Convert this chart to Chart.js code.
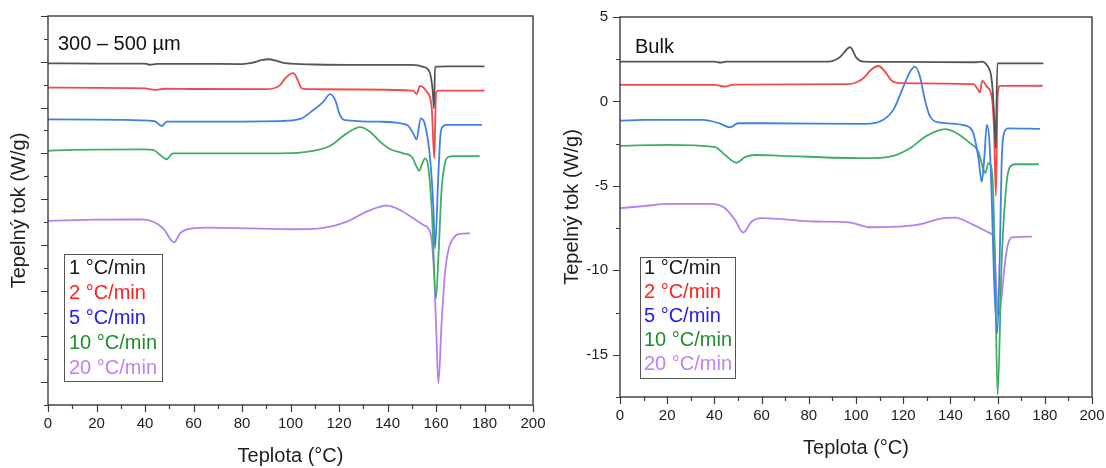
<!DOCTYPE html>
<html><head><meta charset="utf-8">
<script src="https://cdn.jsdelivr.net/npm/chart.js@4.4.1/dist/chart.umd.min.js"></script>
<style>
html,body{margin:0;padding:0;background:#fff;}
#wrap{position:relative;width:1106px;height:468px;overflow:hidden;}
.c{position:absolute;top:0;width:553px;height:468px;}
</style></head><body>
<div id="wrap">
<div class="c" style="left:0"><canvas id="left" width="553" height="468"></canvas></div>
<div class="c" style="left:553px"><canvas id="right" width="553" height="468"></canvas></div>
</div>
<script>
// ---------- data ----------
const seriesLabels = ['1 °C/min', '2 °C/min', '5 °C/min', '10 °C/min', '20 °C/min'];
const xTickValues = [0, 20, 40, 60, 80, 100, 120, 140, 160, 180, 200];
const rightYTickValues = [5, 0, -5, -10, -15];
const panelTitles = ['300 – 500 µm', 'Bulk'];

// Left panel (300 – 500 µm)
const L1_T = [0, 20, 40, 42, 45, 60, 80, 84, 88, 91, 94, 97, 100, 110, 130, 150, 154.8, 157.5, 158.6, 159.2, 159.6, 165, 180];
const L1_V = [1.93, 1.92, 1.92, 1.87, 1.91, 1.91, 1.90, 1.95, 2.07, 2.11, 2.05, 1.95, 1.92, 1.88, 1.86, 1.86, 1.78, 1.51, 0.77, -0.03, 1.78, 1.80, 1.80];
const L2_T = [0, 40, 44, 48, 60, 90, 95.7, 98, 101.2, 103, 104.6, 110, 150.5, 152, 153.4, 156.2, 158.2, 159.3, 160, 161, 180];
const L2_V = [0.87, 0.84, 0.77, 0.82, 0.81, 0.80, 0.98, 1.30, 1.50, 1.20, 0.84, 0.80, 0.74, 0.59, 0.94, 0.69, 0.04, -2.22, 0.62, 0.74, 0.74];
const L3_T = [0, 30, 44, 46.9, 49, 60, 96, 104, 109.4, 113.5, 116.3, 118.4, 120.4, 122.5, 137, 148, 150.6, 152, 153.7, 155.5, 157.5, 158.9, 159.6, 161, 161.9, 163, 164.4, 179];
const L3_V = [-0.52, -0.54, -0.60, -0.81, -0.62, -0.62, -0.59, -0.50, -0.11, 0.25, 0.59, 0.33, -0.33, -0.55, -0.62, -0.76, -1.13, -1.39, -0.47, -0.76, -2.15, -4.33, -6.15, -2.86, -1.13, -0.81, -0.76, -0.76];
const L4_T = [0, 10, 40, 43.4, 46, 48.9, 51.5, 60, 96, 109.4, 116.3, 123.2, 128.7, 132.8, 136.9, 141, 146.5, 150, 152, 153.1, 154.1, 155.5, 156.8, 158.2, 160, 161, 162.3, 163.7, 165.1, 167.1, 178];
const L4_V = [-1.89, -1.85, -1.83, -1.85, -2.05, -2.26, -2.00, -2.00, -2.00, -1.89, -1.68, -1.13, -0.86, -1.06, -1.49, -1.81, -2.00, -2.15, -2.59, -2.77, -2.51, -2.22, -2.59, -4.33, -8.34, -6.52, -3.60, -2.44, -2.15, -2.12, -2.12];
const L5_T = [0, 20, 38, 43.4, 47.5, 52, 54.4, 57.2, 65.4, 100, 112.2, 123.2, 131.4, 139.7, 145.2, 150.6, 154.8, 156.8, 158.2, 159.2, 160, 161, 162.3, 163.7, 165.1, 167.1, 169.2, 174];
const L5_V = [-4.95, -4.90, -4.89, -4.99, -5.28, -5.89, -5.50, -5.32, -5.25, -5.32, -5.28, -4.99, -4.55, -4.29, -4.48, -4.84, -5.13, -5.28, -5.79, -7.25, -9.43, -12.05, -9.43, -7.25, -6.23, -5.72, -5.53, -5.50];

// Right panel (Bulk)
const R1_T = [0, 40, 42.5, 45, 88.3, 93, 97.5, 100.3, 103.1, 120, 151.1, 153.3, 155.4, 157.5, 158.5, 159.2, 159.9, 179.4];
const R1_V = [2.36, 2.36, 2.30, 2.36, 2.36, 2.60, 3.21, 2.56, 2.36, 2.34, 2.32, 2.36, 2.16, 1.27, -0.70, -2.77, 2.26, 2.26];
const R2_T = [0, 40, 44.5, 48, 96.7, 100, 103.1, 106.6, 109.5, 112.3, 115.1, 118.6, 149.7, 151.8, 152.5, 153.5, 155.4, 157.5, 158.5, 159.3, 160, 161, 179.1];
const R2_V = [0.98, 0.98, 0.88, 1.00, 1.02, 1.12, 1.37, 1.91, 2.10, 1.76, 1.23, 1.08, 1.02, 0.68, 0.52, 1.23, 0.88, 0.28, -1.69, -5.60, 0.28, 0.92, 0.93];
const R3_T = [0, 10, 35, 42, 46.6, 50.1, 61.4, 103.8, 111.6, 115.8, 120.1, 122.9, 125, 127.1, 129.2, 131.4, 135.6, 146.9, 149.7, 151.8, 153.3, 154.4, 155.4, 156.5, 157.5, 158.5, 159.9, 161, 161.7, 162.7, 164.5, 178];
const R3_V = [-1.14, -1.09, -1.09, -1.29, -1.53, -1.29, -1.29, -1.33, -1.09, -0.50, 0.88, 1.76, 2.06, 1.47, 0.09, -0.90, -1.25, -1.45, -1.88, -3.27, -4.75, -3.27, -1.39, -2.28, -5.63, -10.56, -13.72, -8.59, -3.66, -1.88, -1.59, -1.63];
const R4_T = [0, 20, 40.3, 44.5, 49.4, 53, 57.2, 68.5, 103.8, 114.4, 122.9, 129.9, 137.7, 142.7, 148.3, 151.8, 154, 154.7, 156.1, 156.8, 157.9, 158.9, 160, 161.7, 163.8, 165.3, 167.4, 177.5];
const R4_V = [-2.63, -2.57, -2.71, -3.17, -3.62, -3.30, -3.17, -3.22, -3.36, -3.27, -2.77, -2.04, -1.64, -1.88, -2.47, -2.97, -4.05, -4.25, -3.66, -3.70, -4.64, -9.57, -17.37, -9.57, -4.84, -3.86, -3.72, -3.72];
const R5_T = [0, 10, 20, 38, 44.5, 48.7, 52.2, 55.8, 60, 82.6, 97.5, 105.9, 125.7, 137, 142, 149.7, 156.8, 158.5, 159.3, 160.3, 161.7, 163.1, 164.5, 166.7, 174.5];
const R5_V = [-6.32, -6.20, -6.07, -6.07, -6.32, -7.01, -7.76, -7.11, -6.91, -7.11, -7.17, -7.45, -7.31, -6.91, -6.88, -7.31, -7.80, -8.20, -10.56, -12.73, -11.55, -9.57, -8.39, -8.04, -8.00];

// ---------- styles ----------
const lineColors = ['#555555', '#f24a4a', '#3f80e6', '#40ad64', '#b580ee'];
const legendColors = ['#1a1a1a', '#ff2020', '#2020f0', '#1e8e2a', '#c080f6'];
const FONT = "'Liberation Sans', Arial, sans-serif";
const textColor = '#1e1e1e';

function pts(T, V) { return T.map((t, i) => ({ x: t, y: V[i] })); }
function makeDatasets(list) {
  return list.map((s, i) => ({
    label: seriesLabels[i],
    data: pts(s[0], s[1]),
    borderColor: lineColors[i],
    borderWidth: 1.8,
    pointRadius: 0,
    fill: false,
    cubicInterpolationMode: 'monotone'
  }));
}

const decor = {
  id: 'decor',
  afterDraw(chart, args, o) {
    const ctx = chart.ctx, a = chart.chartArea;
    const xs = chart.scales.x, ys = chart.scales.y;
    ctx.save();
    ctx.strokeStyle = '#3a3a3a';
    ctx.lineWidth = 1.4;
    ctx.strokeRect(a.left, a.top, a.right - a.left, a.bottom - a.top);
    ctx.lineWidth = 1.2;
    ctx.beginPath();
    xs.ticks.forEach(t => {
      const px = Math.round(xs.getPixelForValue(t.value)) + 0.5;
      const major = Math.abs(t.value / o.xMajor - Math.round(t.value / o.xMajor)) < 1e-6;
      ctx.moveTo(px, a.bottom);
      ctx.lineTo(px, a.bottom + (major ? 7 : 4));
    });
    ys.ticks.forEach(t => {
      const py = Math.round(ys.getPixelForValue(t.value)) + 0.5;
      const major = Math.abs(t.value / o.yMajor - Math.round(t.value / o.yMajor)) < 1e-6;
      ctx.moveTo(a.left, py);
      ctx.lineTo(a.left - (major ? 7 : 4), py);
    });
    ctx.stroke();
    // legend
    const L = o.legend;
    ctx.strokeStyle = '#555';
    ctx.lineWidth = 1;
    ctx.strokeRect(L.x + 0.5, L.y + 0.5, L.w, L.h);
    ctx.font = L.size + 'px ' + FONT;
    ctx.textBaseline = 'middle';
    ctx.textAlign = 'left';
    chart.data.datasets.forEach((d, i) => {
      ctx.fillStyle = legendColors[i];
      ctx.fillText(d.label, L.tx, L.ty + i * L.dy);
    });
    // panel title
    ctx.fillStyle = '#111';
    ctx.font = o.note.size + 'px ' + FONT;
    ctx.fillText(o.note.text, o.note.x, o.note.y);
    ctx.restore();
  }
};

function makeChart(id, datasets, cfg) {
  return new Chart(document.getElementById(id), {
    type: 'line',
    data: { datasets },
    plugins: [decor],
    options: {
      responsive: false,
      devicePixelRatio: 1,
      animation: false,
      layout: { padding: cfg.padding },
      plugins: {
        legend: { display: false },
        tooltip: { enabled: false },
        decor: cfg.decor
      },
      scales: {
        x: {
          type: 'linear', min: 0, max: 200,
          border: { display: false },
          grid: { display: true, drawOnChartArea: false, drawTicks: false, color: 'rgba(0,0,0,0)' },
          ticks: {
            stepSize: 10, autoSkip: false, maxRotation: 0, padding: 10,
            color: textColor, font: { family: FONT, size: 15 },
            callback: v => (xTickValues.includes(v) ? String(v) : '')
          },
          title: { display: true, text: 'Teplota (°C)', color: textColor, font: { family: FONT, size: 20 }, padding: { top: 0, bottom: 0 } },
          afterFit: s => { s.height = cfg.xh; s.paddingLeft = 0; s.paddingRight = 0; }
        },
        y: {
          type: 'linear', min: cfg.ymin, max: cfg.ymax,
          border: { display: false },
          grid: { display: true, drawOnChartArea: false, drawTicks: false, color: 'rgba(0,0,0,0)' },
          ticks: {
            stepSize: cfg.ystep, autoSkip: false, padding: 12,
            color: textColor, font: { family: FONT, size: 15 },
            callback: v => (cfg.ylabels && cfg.ylabels.includes(v) ? String(v) : '')
          },
          title: { display: true, text: 'Tepelný tok (W/g)', color: textColor, font: { family: FONT, size: 20 }, padding: { top: 7, bottom: 0 } },
          afterFit: s => { s.width = cfg.yw; s.paddingTop = 0; s.paddingBottom = 0; }
        }
      }
    }
  });
}

makeChart('left', makeDatasets([[L1_T, L1_V], [L2_T, L2_V], [L3_T, L3_V], [L4_T, L4_V], [L5_T, L5_V]]), {
  padding: { left: 0, top: 16, right: 20, bottom: 0 },
  xh: 63, yw: 48, ymin: -13, ymax: 4, ystep: 1, ylabels: null,
  decor: {
    xMajor: 20, yMajor: 2,
    legend: { x: 64, y: 254, w: 98, h: 127, tx: 69, ty: 268, dy: 25, size: 20 },
    note: { text: panelTitles[0], x: 58, y: 44, size: 20 }
  }
});

makeChart('right', makeDatasets([[R1_T, R1_V], [R2_T, R2_V], [R3_T, R3_V], [R4_T, R4_V], [R5_T, R5_V]]), {
  padding: { left: 0, top: 17, right: 14, bottom: 8 },
  xh: 63, yw: 67, ymin: -17.5, ymax: 5, ystep: 2.5, ylabels: rightYTickValues,
  decor: {
    xMajor: 20, yMajor: 5,
    legend: { x: 87, y: 257, w: 95, h: 121, tx: 91, ty: 268, dy: 24.2, size: 20 },
    note: { text: panelTitles[1], x: 82, y: 47, size: 20 }
  }
});
</script>
</body></html>
